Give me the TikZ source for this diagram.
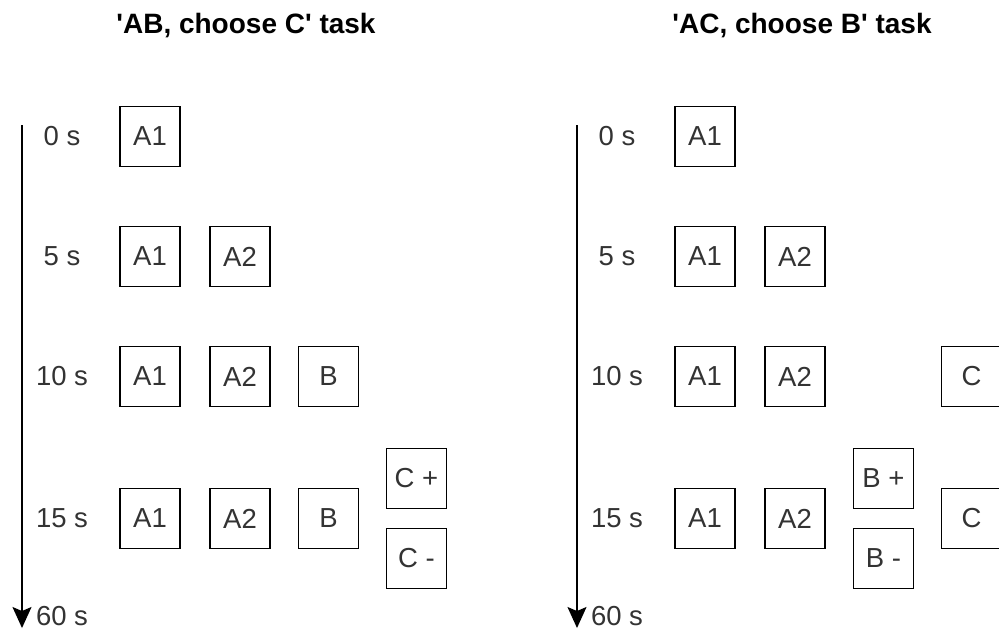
\documentclass[tikz,border=0pt]{standalone}
\usepackage{fontspec}
\setmainfont{Liberation Sans}
\usetikzlibrary{arrows.meta}

\begin{document}
\begin{tikzpicture}[x=0.5pt,y=-0.5pt,
    box/.style={draw,line width=0.85pt,minimum size=30pt,inner sep=0pt,
      text=black!80,font=\fontsize{13.75}{16}\selectfont},
    tlabel/.style={text=black!80,font=\fontsize{13.75}{16}\selectfont},
    heading/.style={anchor=base,font=\fontsize{14}{16}\selectfont\bfseries},
    timeline/.style={line width=0.85pt,-{Stealth[length=10.5pt,width=9.5pt,inset=2pt]}}]
  \useasboundingbox (0,0) rectangle (999,632);
  % left task
  \begin{scope}
    \node[heading] (ltitle) at (246,33) {\textquotesingle AB, choose C\textquotesingle{} task};
    \coordinate (ltop) at (22,125);
    \coordinate (lend) at (22,628);
    \draw[timeline] (ltop) -- (lend);
    \node[tlabel] (lt0) at (62,136.5) {0 s};
    \node[tlabel] (lt5) at (62,256.5) {5 s};
    \node[tlabel] (lt10) at (62,376.5) {10 s};
    \node[tlabel] (lt15) at (62,518.5) {15 s};
    \node[tlabel] (lt60) at (62,616) {60 s};
    \node[box] (l0a1) at (150,136.5) {A1};
    \node[box] (l5a1) at (150,256.5) {A1};
    \node[box] (l5a2) at (240,256.5) {A2};
    \node[box] (l10a1) at (150,376.5) {A1};
    \node[box] (l10a2) at (240,376.5) {A2};
    \node[box] (l10b) at (328.5,376.5) {B};
    \node[box] (l15a1) at (150,518.5) {A1};
    \node[box] (l15a2) at (240,518.5) {A2};
    \node[box] (l15b) at (328.5,518.5) {B};
    \node[box] (l15cp) at (416.5,478.5) {C +};
    \node[box] (l15cm) at (416.5,558.5) {C -};
  \end{scope}
  % right task
  \begin{scope}[shift={(555,0)}]
    \node[heading] (rtitle) at (247,33) {\textquotesingle AC, choose B\textquotesingle{} task};
    \coordinate (rtop) at (22,125);
    \coordinate (rend) at (22,628);
    \draw[timeline] (rtop) -- (rend);
    \node[tlabel] (rt0) at (62,136.5) {0 s};
    \node[tlabel] (rt5) at (62,256.5) {5 s};
    \node[tlabel] (rt10) at (62,376.5) {10 s};
    \node[tlabel] (rt15) at (62,518.5) {15 s};
    \node[tlabel] (rt60) at (62,616) {60 s};
    \node[box] (r0a1) at (150,136.5) {A1};
    \node[box] (r5a1) at (150,256.5) {A1};
    \node[box] (r5a2) at (240,256.5) {A2};
    \node[box] (r10a1) at (150,376.5) {A1};
    \node[box] (r10a2) at (240,376.5) {A2};
    \node[box] (r10c) at (416.5,376.5) {C};
    \node[box] (r15a1) at (150,518.5) {A1};
    \node[box] (r15a2) at (240,518.5) {A2};
    \node[box] (r15bp) at (328.5,478.5) {B +};
    \node[box] (r15bm) at (328.5,558.5) {B -};
    \node[box] (r15c) at (416.5,518.5) {C};
  \end{scope}
\end{tikzpicture}
\end{document}
